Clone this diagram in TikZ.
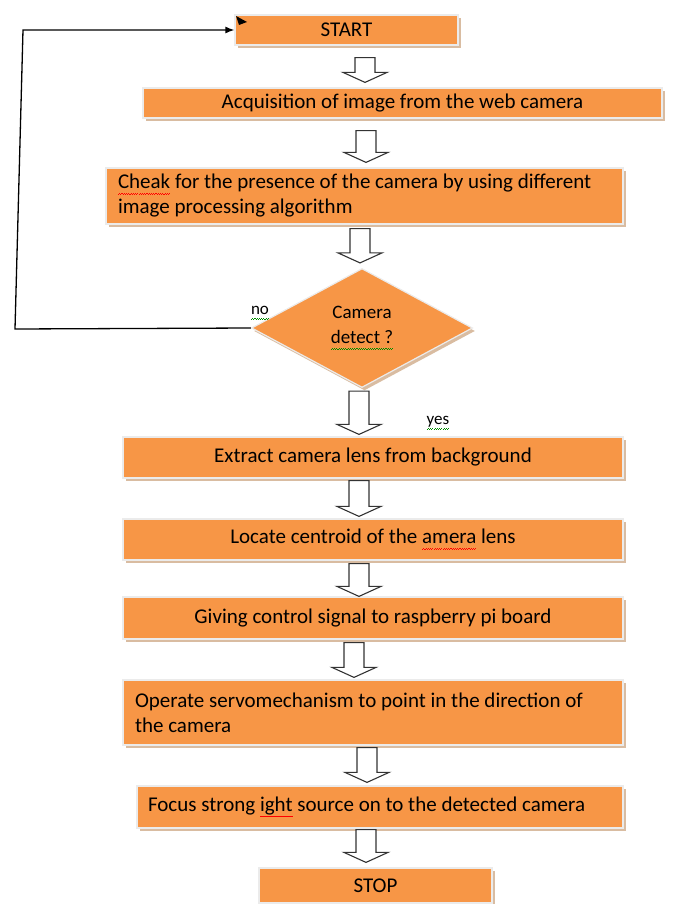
\documentclass[tikz,border=0pt]{standalone}
\usepackage{fontspec}
\setmainfont{Carlito}
\usetikzlibrary{calc,shapes.geometric,shadows,arrows.meta}
\definecolor{boxorange}{HTML}{F79646}
\definecolor{shadowtan}{HTML}{D5B597}
% spell-check wave under a word
\newcommand\wavemark[2]{{\setbox0=\hbox{#2}\rlap{\color{#1}\hbox to \wd0{\xleaders\hbox{\rule[-5.6pt]{1.1pt}{0.7pt}\rule[-4.7pt]{1.1pt}{0.7pt}}\hfill}}\box0}}
\tikzset{
	flowbox/.style={draw=black!8, line width=1.2pt, fill=boxorange, inner sep=0pt,
		font=\fontsize{21}{25}\selectfont,
		drop shadow={shadow xshift=2.5pt, shadow yshift=-3pt, fill=shadowtan, opacity=0.9}},
	blockarr/.style={draw=black!80, line width=1.1pt, fill=white, line join=miter},
	smalllbl/.style={font=\fontsize{17}{20}\selectfont, inner sep=0pt}
}
% hollow down arrow: from node, to node, x, top gap, tip gap
\newcommand{\blockarrow}[5]{%
	\draw[blockarr] let \p1=(#3,0 |- #1.south), \p2=(#3,0 |- #2.north) in
	(\x1-10pt,\y1-#4pt) -- (\x1+10pt,\y1-#4pt) -- (\x1+10pt,\y2+#5pt+10pt) -- (\x1+22pt,\y2+#5pt+10pt)
	-- (\x1,\y2+#5pt) -- (\x1-22pt,\y2+#5pt+10pt) -- (\x1-10pt,\y2+#5pt+10pt) -- cycle;}

\begin{document}
\begin{tikzpicture}[x=1pt, y=-1pt]
			%%%%% START %%%%%
			\useasboundingbox (0,0) rectangle (673,904);
			
			\node[flowbox, minimum width=223pt, minimum height=30pt] (start) at (346.5,30) {START};
			\node[flowbox, minimum width=519pt, minimum height=30pt] (acq) at (402.5,103) {Acquisition of image from the web camera};
			\node[flowbox, minimum width=517pt, minimum height=56pt, text width=493pt, align=flush left] (check) at (364.5,196)
				{\wavemark{red}{Cheak} for the presence of the camera by using different\\ image processing algorithm};
			
			\node[flowbox, diamond, minimum width=221pt, minimum height=119pt, align=center, font=\fontsize{19}{25}\selectfont] (dec) at (362,328)
				{Camera\\ \wavemark{green!55!black}{detect ?}};
			\node[smalllbl] (nolbl) at (260,313) {\wavemark{green!55!black}{no}};
			\node[smalllbl] (yeslbl) at (438,423) {\wavemark{green!55!black}{yes}};
			
			\node[flowbox, minimum width=500pt, minimum height=41pt] (extract) at (373,457.5) {Extract camera lens from background};
			\node[flowbox, minimum width=500pt, minimum height=41pt] (locate) at (373,539.5) {Locate centroid of the \wavemark{red}{amera} lens};
			\node[flowbox, minimum width=500pt, minimum height=42pt] (giving) at (373,618) {Giving control signal to raspberry pi board};
			\node[flowbox, minimum width=500pt, minimum height=65pt, text width=476pt, align=flush left] (operate) at (373,712.5)
				{Operate servomechanism to point in the direction of\\ the camera};
			\node[flowbox, minimum width=486pt, minimum height=42pt, text width=464pt, align=flush left] (focus) at (380,807)
				{Focus strong \wavemark{red}{ight} source on to the detected camera};
			\node[flowbox, minimum width=233pt, minimum height=35pt] (stop) at (375.5,885.5) {STOP};
			
			\blockarrow{start}{acq}{365}{12}{5}
			\blockarrow{acq}{check}{366}{12}{5}
			\blockarrow{check}{dec}{360}{4}{5}
			\blockarrow{dec}{extract}{359}{3}{2}
			\blockarrow{extract}{locate}{359}{2}{2}
			\blockarrow{locate}{giving}{359}{3}{0}
			\blockarrow{giving}{operate}{354}{3}{2}
			\blockarrow{operate}{focus}{367}{2}{3}
			\blockarrow{focus}{stop}{366}{1}{5}
			
			\coordinate (loopbot) at (15,329);
			\coordinate (looptop) at (23,30);
			\draw[line width=1.3pt, -{Latex[length=9pt,width=7pt]}] (dec.west) -- (loopbot) -- (looptop) -- (start.west);
			\fill (236,16) -- (247,22) -- (239,25) -- cycle;
			
			%%%%% END %%%%%
\end{tikzpicture}
\end{document}
